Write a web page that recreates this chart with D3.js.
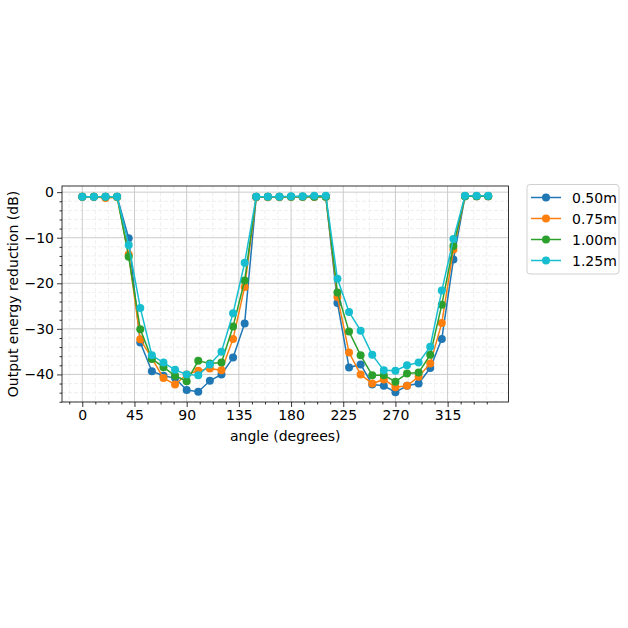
<!DOCTYPE html>
<html><head><meta charset="utf-8">
<script src="https://cdn.jsdelivr.net/npm/d3@7"></script>
<style>body{margin:0;background:#fff}svg{display:block}text{font-family:"DejaVu Sans",sans-serif}</style>
</head><body>
<svg id="c" width="628" height="628"></svg>
<script>
const angles = d3.range(0, 360, 10);
const seriesNames = ["0.50m", "0.75m", "1.00m", "1.25m"];
const s050 = [-1.0,-1.0,-1.0,-1.0,-10.1,-33.0,-39.3,-40.3,-40.8,-43.4,-43.8,-41.4,-40.0,-36.3,-28.8,-1.0,-1.0,-1.0,-1.0,-1.0,-1.0,-1.0,-24.3,-38.5,-37.8,-42.2,-42.5,-43.9,-42.5,-42.0,-38.6,-32.2,-14.8,-0.9,-0.9,-0.9];
const s075 = [-1.0,-1.0,-1.3,-1.1,-13.7,-32.3,-36.5,-40.8,-42.2,-40.0,-39.2,-38.7,-39.1,-32.2,-20.8,-1.1,-1.1,-1.1,-1.0,-1.0,-1.0,-1.0,-23.0,-35.2,-40.0,-42.0,-41.1,-42.8,-42.5,-40.5,-37.6,-28.7,-12.6,-0.9,-0.9,-0.9];
const s100 = [-1.0,-1.0,-1.0,-1.0,-14.2,-30.1,-36.6,-38.4,-40.3,-41.5,-37.0,-37.6,-37.4,-29.5,-19.4,-1.0,-1.0,-1.0,-1.0,-1.0,-1.0,-1.0,-22.0,-30.6,-35.8,-40.2,-40.2,-41.6,-39.8,-39.6,-35.7,-24.7,-11.8,-0.9,-0.9,-0.9];
const s125 = [-1.0,-1.0,-1.0,-1.0,-11.6,-25.4,-35.8,-37.4,-39.0,-40.0,-40.2,-37.8,-35.0,-26.6,-15.5,-1.0,-1.0,-1.0,-0.9,-0.9,-0.8,-0.8,-19.0,-26.3,-30.4,-35.7,-39.1,-39.2,-38.0,-37.4,-33.9,-21.6,-10.3,-0.8,-0.8,-0.8];
const xTicks = [0, 45, 90, 135, 180, 225, 270, 315];
const yTicks = [0, -10, -20, -30, -40];
const colors = ["#1f77b4", "#ff7f0e", "#2ca02c", "#17becf"];

const allSeries = [s050, s075, s100, s125];
const svg = d3.select("#c");
const L = 62, R = 508.5, T = 186, B = 402;
const FS = 14;
const x = d3.scaleLinear().domain([-17.5, 367.5]).range([L, R]);
const y = d3.scaleLinear().domain([-46.05, 1.35]).range([B, T]);

const g = svg.append("g");
// minor grid
const xMinor = d3.range(-11.25, 367.5, 11.25).filter(v => v >= -17.5 && v <= 367.5 && Math.abs(v % 45) > 1e-6);
const yMinor = d3.range(-46, 2, 2).filter(v => v % 10 !== 0);
g.selectAll(".xm").data(xMinor).join("line").attr("x1", d => x(d)).attr("x2", d => x(d)).attr("y1", T).attr("y2", B)
  .attr("stroke", "#ebebeb").attr("stroke-width", 0.8).attr("stroke-dasharray", "4,2");
g.selectAll(".ym").data(yMinor).join("line").attr("y1", d => y(d)).attr("y2", d => y(d)).attr("x1", L).attr("x2", R)
  .attr("stroke", "#ebebeb").attr("stroke-width", 0.8).attr("stroke-dasharray", "4,2");
// major grid
g.selectAll(".xg").data(xTicks).join("line").attr("x1", d => x(d)).attr("x2", d => x(d)).attr("y1", T).attr("y2", B)
  .attr("stroke", "#cccccc").attr("stroke-width", 1);
g.selectAll(".yg").data(yTicks).join("line").attr("y1", d => y(d)).attr("y2", d => y(d)).attr("x1", L).attr("x2", R)
  .attr("stroke", "#cccccc").attr("stroke-width", 1);

// lines
const line = d3.line().x((d, i) => x(angles[i])).y(d => y(d));
allSeries.forEach((s, k) => {
  svg.append("path").datum(s).attr("d", line).attr("fill", "none").attr("stroke", colors[k]).attr("stroke-width", 1.5);
  svg.append("g").selectAll("circle").data(s).join("circle")
    .attr("cx", (d, i) => x(angles[i])).attr("cy", d => y(d)).attr("r", 4).attr("fill", colors[k]);
});

// axes
const fmt = d => d < 0 ? "\u2212" + Math.abs(d) : String(d);
const xAxis = d3.axisBottom(x).tickValues(xTicks).tickSize(5).tickPadding(3).tickFormat(fmt);
const xAxisMinor = d3.axisBottom(x).tickValues(xMinor).tickSize(2.5).tickFormat("");
const yAxis = d3.axisLeft(y).tickValues(yTicks).tickSize(5).tickPadding(3).tickFormat(fmt);
const yAxisMinor = d3.axisLeft(y).tickValues(yMinor).tickSize(2.5).tickFormat("");
svg.append("g").attr("transform", `translate(0,${B})`).call(xAxisMinor).call(a => a.select(".domain").remove());
svg.append("g").attr("transform", `translate(${L},0)`).call(yAxisMinor).call(a => a.select(".domain").remove());
const gx = svg.append("g").attr("transform", `translate(0,${B})`).call(xAxis);
const gy = svg.append("g").attr("transform", `translate(${L},0)`).call(yAxis);
[gx, gy].forEach(a => { a.selectAll("text").attr("font-size", FS).attr("fill", "#000").attr("font-family", "DejaVu Sans"); a.select(".domain").remove(); });
svg.selectAll(".tick line").attr("stroke", "#000").attr("stroke-width", 0.8);
// frame
svg.append("rect").attr("x", L).attr("y", T).attr("width", R - L).attr("height", B - T)
  .attr("fill", "none").attr("stroke", "#000").attr("stroke-width", 0.8);

svg.append("text").attr("x", (L + R) / 2).attr("y", 441).attr("text-anchor", "middle").attr("font-size", FS).text("angle (degrees)");
svg.append("text").attr("transform", `translate(18,${(T + B) / 2}) rotate(-90)`).attr("text-anchor", "middle").attr("font-size", FS)
  .text("Output energy reduction (dB)");

// legend
const lg = svg.append("g");
lg.append("rect").attr("x", 527).attr("y", 184.5).attr("width", 92).attr("height", 89.5).attr("rx", 3)
  .attr("fill", "#fff").attr("stroke", "#d0d0d0").attr("stroke-width", 1);
seriesNames.forEach((n, k) => {
  const yy = 197.5 + k * 21;
  lg.append("line").attr("x1", 531).attr("x2", 561).attr("y1", yy).attr("y2", yy).attr("stroke", colors[k]).attr("stroke-width", 1.5);
  lg.append("circle").attr("cx", 546).attr("cy", yy).attr("r", 4).attr("fill", colors[k]);
  lg.append("text").attr("x", 572).attr("y", yy + 5).attr("font-size", FS).text(n);
});
</script>
</body></html>
